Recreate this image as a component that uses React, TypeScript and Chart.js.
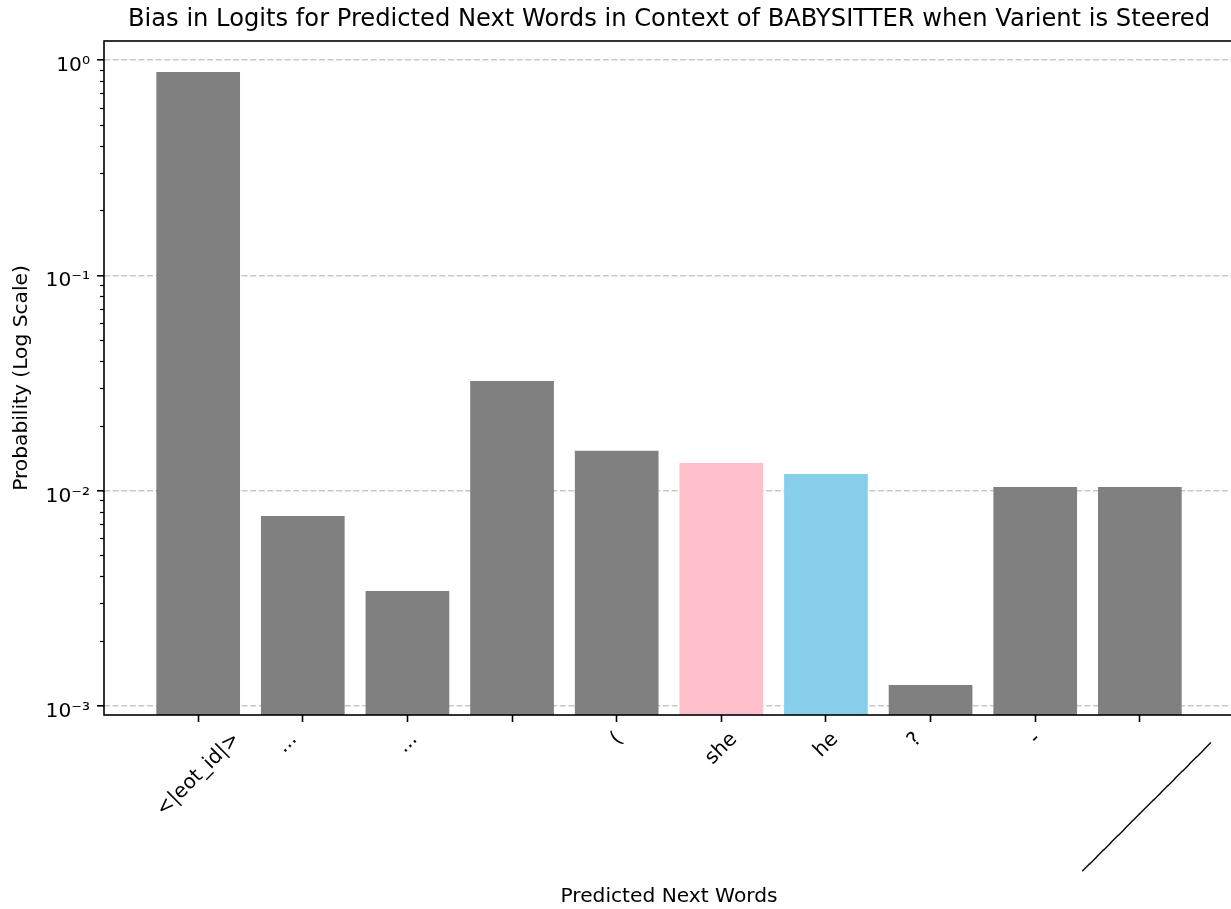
import { useEffect, useRef } from 'react';
import { Chart, registerables } from 'chart.js';

Chart.register(...registerables);

// Next-word candidates and their probabilities
const words = ['<|eot_id|>', '...\n\n', '...', '\n\n', '(', 'she', 'he', '?\n\n', '-', '__________________'];
const probabilities = [0.88, 0.00762, 0.00342, 0.0323, 0.0153, 0.01344, 0.01195, 0.00125, 0.0104, 0.0104];
const barColors = ['gray', 'gray', 'gray', 'gray', 'gray', 'pink', 'skyblue', 'gray', 'gray', 'gray'];

// Log-axis decades and their labels
const majorTickValues = [1e-3, 1e-2, 1e-1, 1];
const majorTickLabels = ['10⁻³', '10⁻²', '10⁻¹', '10⁰'];
const minorMultipliers = [2, 3, 4, 5, 6, 7, 8, 9];
const minorDecades = [1e-4, 1e-3, 1e-2, 1e-1, 1];

const titleText = 'Bias in Logits for Predicted Next Words in Context of BABYSITTER when Varient is Steered';
const xTitle = 'Predicted Next Words';
const yTitle = 'Probability (Log Scale)';

const FONT = "'DejaVu Sans', sans-serif";
const LABEL_PX = 20.2;
const TITLE_PX = 24.2;

// Closed frame around the plotting area
const framePlugin = {
  id: 'frame',
  afterDraw(chart: any) {
    const { ctx, chartArea: a } = chart;
    ctx.save();
    ctx.strokeStyle = '#000';
    ctx.lineWidth = 1.6;
    ctx.strokeRect(a.left, a.top, a.right - a.left, a.bottom - a.top);
    ctx.restore();
  },
};

// Short minor tick marks on the log axis
const minorTicksPlugin = {
  id: 'minorTicks',
  afterDraw(chart: any) {
    const ys = chart.scales.y;
    const { ctx } = chart;
    ctx.save();
    ctx.strokeStyle = '#000';
    ctx.lineWidth = 1.2;
    minorDecades.forEach((d) => {
      minorMultipliers.forEach((m) => {
        const v = m * d;
        if (v <= ys.min || v >= ys.max) return;
        const y = Math.round(ys.getPixelForValue(v)) + 0.5;
        ctx.beginPath();
        ctx.moveTo(ys.right - 4, y);
        ctx.lineTo(ys.right, y);
        ctx.stroke();
      });
    });
    ctx.restore();
  },
};

// Word labels under the bars, rotated 45° and centred on each tick
const wordLabelsPlugin = {
  id: 'wordLabels',
  afterDraw(chart: any) {
    const xs = chart.scales.x;
    const { ctx } = chart;
    const em = LABEL_PX;
    const asc = 0.76 * em;
    const desc = 0.21 * em;
    const lineStep = 1.2 * asc + desc;
    const gap = 14;
    ctx.save();
    ctx.font = `${em}px ${FONT}`;
    ctx.fillStyle = '#000';
    ctx.textAlign = 'center';
    ctx.textBaseline = 'alphabetic';
    words.forEach((word, i) => {
      const lines = word.split('\n');
      const w = Math.max(...lines.map((l) => ctx.measureText(l).width));
      const h = asc + desc + (lines.length - 1) * lineStep;
      const side = (w + h) * Math.SQRT1_2;
      const cx = xs.getPixelForValue(i);
      const cy = xs.top + gap + side / 2;
      ctx.save();
      ctx.translate(cx, cy);
      ctx.rotate(-Math.PI / 4);
      lines.forEach((line, j) => {
        if (line) ctx.fillText(line, 0, -h / 2 + asc + j * lineStep);
      });
      ctx.restore();
    });
    ctx.restore();
  },
};

export default function App() {
  const canvasRef = useRef<HTMLCanvasElement>(null);

  useEffect(() => {
    const canvas = canvasRef.current;
    if (!canvas) return;
    const chart = new Chart(canvas, {
      type: 'bar',
      data: {
        datasets: [
          {
            data: probabilities.map((p, i) => ({ x: i, y: p })),
            xAxisID: 'x',
            yAxisID: 'y',
            backgroundColor: barColors,
            borderWidth: 0,
            barPercentage: 0.8,
            categoryPercentage: 1,
          },
        ],
      },
      options: {
        responsive: false,
        animation: false,
        layout: { padding: 0 },
        plugins: {
          legend: { display: false },
          tooltip: { enabled: false },
          title: { display: false },
        },
        scales: {
          x: {
            type: 'linear',
            position: 'bottom',
            min: -0.9,
            max: 9.9,
            offset: false,
            afterBuildTicks: (scale: any) => {
              scale.ticks = words.map((_, i) => ({ value: i }));
            },
            afterFit: (scale: any) => {
              scale.height = 194;
            },
            ticks: {
              autoSkip: false,
              maxRotation: 0,
              callback: () => '',
            },
            grid: {
              offset: false,
              drawOnChartArea: false,
              drawTicks: true,
              tickLength: 7,
              tickColor: '#000',
              tickWidth: 1.6,
            },
            border: { display: false },
            title: {
              display: true,
              text: xTitle,
              color: '#000',
              font: { family: FONT, size: LABEL_PX },
              padding: { top: 0, bottom: 0.5 },
            },
          },
          // Top axis carries only the chart title, centred over the plot
          titleAxis: {
            type: 'linear',
            axis: 'x',
            position: 'top',
            min: 0,
            max: 1,
            afterFit: (scale: any) => {
              scale.height = 41;
            },
            ticks: { display: false },
            grid: { display: false, drawTicks: false },
            border: { display: false },
            title: {
              display: true,
              text: titleText,
              color: '#000',
              font: { family: FONT, size: TITLE_PX, weight: 'normal' },
              padding: { top: 5, bottom: 0 },
            },
          },
          y: {
            type: 'logarithmic',
            position: 'left',
            min: 0.000908,
            max: 1.225,
            z: 1,
            afterBuildTicks: (scale: any) => {
              scale.ticks = majorTickValues.map((v) => ({ value: v, major: true }));
            },
            afterFit: (scale: any) => {
              scale.width = 104;
            },
            ticks: {
              color: '#000',
              font: { family: FONT, size: LABEL_PX },
              padding: 7,
              labelOffset: 5.8,
              callback: (value: any) => {
                const idx = majorTickValues.findIndex((v) => Math.abs(v - Number(value)) < v * 1e-6);
                return idx >= 0 ? majorTickLabels[idx] : '';
              },
            },
            grid: {
              color: '#c8c8c8',
              lineWidth: 1.6,
              drawTicks: true,
              tickLength: 7,
              tickColor: '#000',
              tickWidth: 1.6,
              tickBorderDash: [],
            },
            border: { display: false, dash: [6, 2.6] },
            title: {
              display: true,
              text: yTitle,
              color: '#000',
              font: { family: FONT, size: LABEL_PX },
              padding: { top: 9.5, bottom: 0 },
            },
          },
        },
      } as any,
      plugins: [framePlugin, minorTicksPlugin, wordLabelsPlugin],
    });
    return () => chart.destroy();
  }, []);

  return (
    <div
      style={{
        position: 'absolute',
        left: 0,
        top: 0,
        width: 1231,
        height: 909,
        overflow: 'hidden',
        background: '#fff',
      }}
    >
      <canvas ref={canvasRef} width={1234} height={909} style={{ display: 'block', width: 1234, height: 909 }} />
    </div>
  );
}
